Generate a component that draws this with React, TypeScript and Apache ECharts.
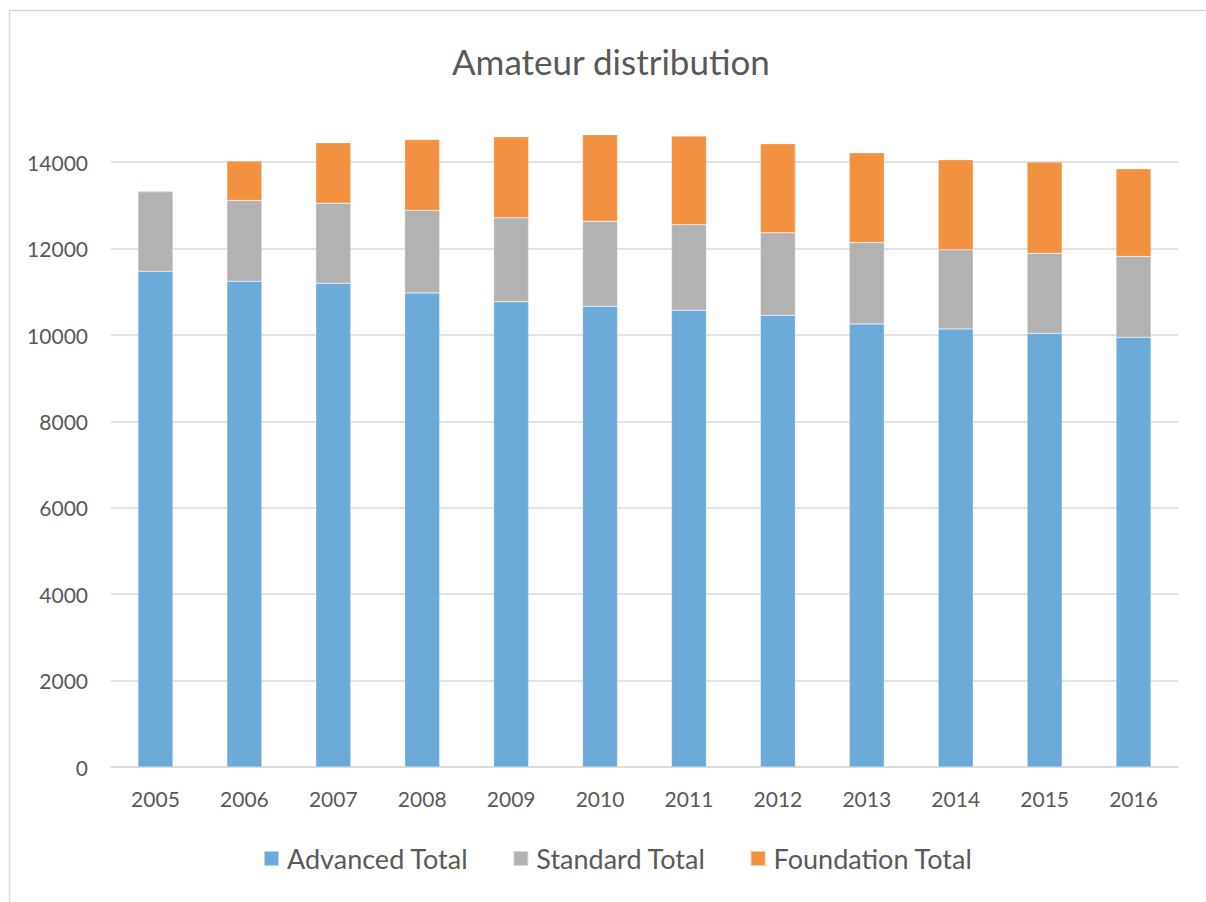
import React, { useEffect, useRef } from "react";
import * as echarts from "echarts";

const years = ["2005", "2006", "2007", "2008", "2009", "2010", "2011", "2012", "2013", "2014", "2015", "2016"];
const advancedTotal = [11476, 11245, 11198, 10975, 10767, 10666, 10573, 10457, 10257, 10141, 10040, 9947];
const standardTotal = [1839, 1869, 1854, 1908, 1946, 1969, 1978, 1908, 1884, 1830, 1853, 1870];
const foundationTotal = [22, 911, 1399, 1645, 1877, 2001, 2054, 2062, 2078, 2086, 2109, 2031];

const FONT = "Lato, 'Open Sans', sans-serif";
const TEXT = "#595959";

export default function App() {
  const ref = useRef<HTMLDivElement>(null);
  useEffect(() => {
    if (!ref.current) return;
    const chart = echarts.init(ref.current, null, { renderer: "svg" });
    const bar = (name: string, data: number[], color: string) => ({
      name,
      type: "bar",
      stack: "total",
      barWidth: 35,
      barMinHeight: 0,
      data,
      itemStyle: { color, borderColor: "rgba(255,255,255,0.5)", borderWidth: 0.5 },
    });
    chart.setOption({
      animation: false,
      backgroundColor: "#ffffff",
      textStyle: { fontFamily: FONT },
      title: {
        text: "Amateur distribution",
        left: 447,
        top: 38,
        textStyle: { fontFamily: FONT, fontSize: 35, fontWeight: "normal", color: TEXT },
      },
      graphic: [
        {
          type: "rect",
          shape: { x: 9.5, y: 10.5, width: 1300, height: 1000 },
          style: { fill: "none", stroke: "#d9d9d9", lineWidth: 1.5 },
          silent: true,
          z: -1,
        },
      ],
      legend: {
        top: 840,
        left: 258,
        itemWidth: 15,
        itemHeight: 15,
        itemGap: 44,
        icon: "rect",
        textStyle: { fontFamily: FONT, fontSize: 27, color: TEXT, padding: [0, 0, 0, 3] },
        data: ["Advanced Total", "Standard Total", "Foundation Total"],
      },
      grid: { left: 111, right: 28, top: 119, bottom: 135, containLabel: false },
      xAxis: {
        type: "category",
        data: years,
        axisLine: { lineStyle: { color: "#d9d9d9", width: 1.5 } },
        axisTick: { show: false },
        axisLabel: { fontFamily: FONT, fontSize: 21, color: TEXT, margin: 21 },
      },
      yAxis: {
        type: "value",
        min: 0,
        max: 15000,
        interval: 2000,
        axisLine: { show: false },
        axisTick: { show: false },
        axisLabel: {
          fontFamily: FONT,
          fontSize: 21,
          color: TEXT,
          margin: 23,
          showMaxLabel: false,
          formatter: (v: number) => String(v),
        },
        splitLine: { showMaxLine: false, lineStyle: { color: "#d9d9d9", width: 1.5 } },
      },
      series: [
        bar("Advanced Total", advancedTotal, "#6CAADA"),
        bar("Standard Total", standardTotal, "#B2B2B2"),
        bar("Foundation Total", foundationTotal, "#F29241"),
      ],
    });
    return () => chart.dispose();
  }, []);
  return (
    <div
      ref={ref}
      style={{ position: "absolute", left: 0, top: 0, width: 1206, height: 902 }}
    />
  );
}
